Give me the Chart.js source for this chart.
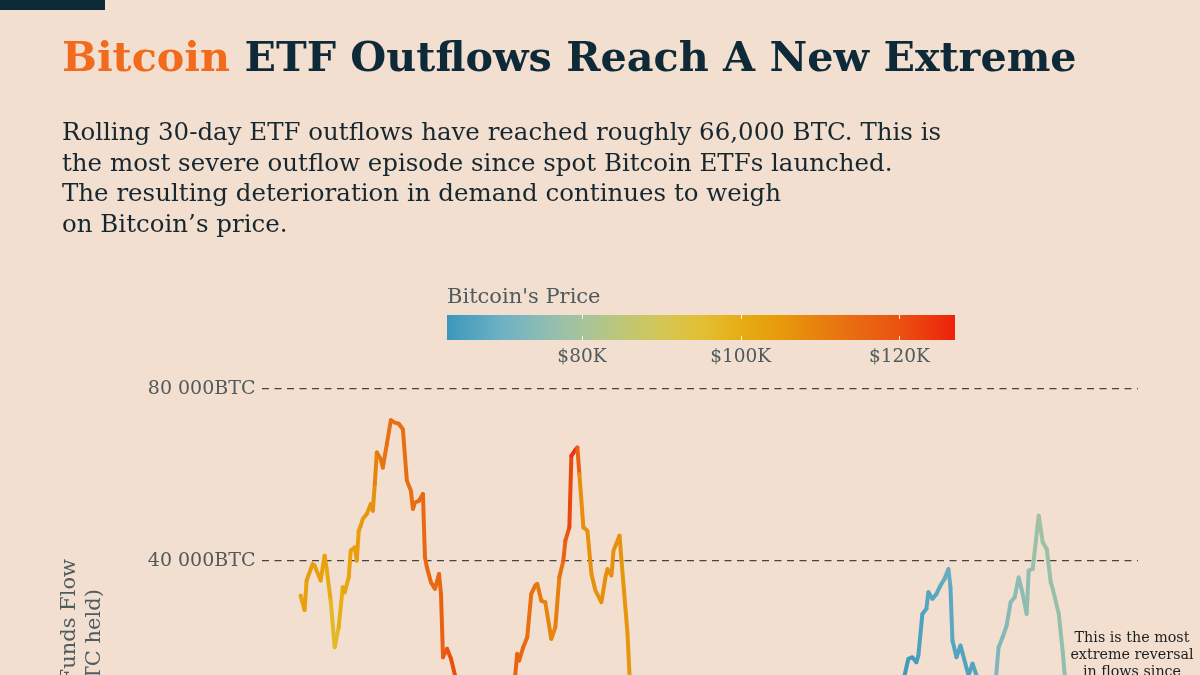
<!DOCTYPE html>
<html>
<head>
<meta charset="utf-8">
<script src="https://cdn.jsdelivr.net/npm/chart.js@4.4.1/dist/chart.umd.min.js"></script>
<style>
  body { margin: 0; background: #f2dfcf; font-family: "DejaVu Serif", serif; }
  #page { position: relative; width: 1200px; height: 675px; overflow: hidden; background: #f2dfcf; }
  .topbar { position: absolute; left: 0; top: 0; width: 105px; height: 10px; background: #0e2a38; }
  .title { position: absolute; left: 62px; top: 36px; font-weight: bold; font-size: 41.3px; line-height: 41.3px;
           color: #0e2a38; white-space: nowrap; }
  .title span { color: #f26b1d; }
  .subtitle { position: absolute; left: 62px; top: 117px; font-size: 24.5px; line-height: 30.5px; color: #172730; white-space: nowrap; }
  .cb-label { position: absolute; left: 447px; top: 286px; font-size: 21px; line-height: 21px; color: #4e5a5e; }
  #colorbar { position: absolute; left: 447px; top: 315px; width: 508px; height: 25px; }
  .cb-tick { position: absolute; width: 1px; height: 4px; background: rgba(255,255,255,0.85); }
  .cb-num { position: absolute; top: 347px; width: 90px; margin-left: -45px; text-align: center; font-size: 18.5px; line-height: 18.5px; color: #4e5a5e; }
  .note { position: absolute; left: 1052px; top: 629px; width: 160px; text-align: center; font-size: 14.3px; line-height: 17px; color: #1e1e1e; }
  #chart { position: absolute; left: 0; top: 0; }
</style>
</head>
<body>
<div id="page">
  <canvas id="chart" width="1200" height="960" style="width:1200px;height:960px"></canvas>
  <div class="topbar"></div>
  <div class="title"><span>Bitcoin</span> ETF Outflows Reach A New Extreme</div>
  <div class="subtitle">Rolling 30-day ETF outflows have reached roughly 66,000 BTC. This is<br>the most severe outflow episode since spot Bitcoin ETFs launched.<br>The resulting deterioration in demand continues to weigh<br>on Bitcoin’s price.</div>
  <div class="cb-label">Bitcoin's Price</div>
  <div id="colorbar"></div>
  <div class="note">This is the most<br>extreme reversal<br>in flows since<br>launch</div>
</div>
<script>
// days since start of the plotted window
const days = [19, 21, 22, 25, 26, 29, 31, 32, 34, 36, 38, 40, 41, 43, 44, 46, 47, 48, 49, 50,
  52, 54, 55, 56, 57, 59, 60, 62, 64, 66, 68, 70, 72, 74, 75, 76, 78, 80, 81, 82,
  84, 86, 88, 89, 90, 92, 94, 96, 100, 104, 108, 113, 118, 123,
  126, 127, 128, 130, 132, 134, 136, 137, 139, 141, 144, 146, 148, 150, 151, 153, 154, 156, 157, 158,
  160, 162, 164, 166, 169, 171, 172, 174, 175, 178, 179, 182, 183,
  190, 200, 215, 230, 245, 260, 275, 290, 305, 315,
  320, 322, 324, 326, 327, 329, 331, 332, 334, 336, 338, 340, 342, 343, 344, 346, 348, 350, 352, 354, 356,
  359, 362, 365,
  367, 369, 371, 373, 375, 377, 379, 381, 382, 384, 387, 389, 391, 393, 394, 397, 399, 400,
  405, 410, 415, 420];

// rolling 30-day net flow, BTC
const flows = [31860, 28530, 35350, 39230, 38840, 35350, 41160, 38070, 30700, 19840, 24490, 33790, 32630, 36120, 42330, 43090, 40000, 46980, 48140, 49700,
  50860, 53190, 51630, 57840, 65190, 63650, 61700, 67140, 72720, 72160, 71900, 70630, 58600, 56280, 52020, 53560, 53950, 55510, 40770, 38440,
  34950, 33420, 36910, 32260, 17510, 19470, 17140, 13260, 4000, -6000, -12000, -5000, 3000, 9000,
  13260, 18300, 16740, 19840, 22160, 32260, 34190, 34580, 30700, 30300, 21790, 24490, 36120, 40000, 44650, 47750, 64420, 65810, 66350, 60160,
  47750, 46980, 36910, 33020, 30300, 36120, 38070, 36510, 42330, 45810, 40000, 22950, 13260,
  0, -15000, -28000, -12000, -22000, -35000, -30000, -15000, -5000, 5000,
  13000, 17140, 17510, 16350, 17910, 27600, 28770, 32630, 31090, 32260, 34190, 35750, 38070, 33790, 21400, 17510, 20230, 16740, 13260, 15980, 13260,
  7000, 4000, 9000,
  19840, 22160, 24880, 30300, 31460, 36120, 32260, 27600, 37670, 38070, 50470, 44260, 42720, 34950, 33420, 27600, 18670, 13260,
  -5000, -25000, -38000, -35000];

// Bitcoin price, $K
const prices = [102, 103, 104, 104, 104, 103, 104, 102, 99, 96, 98, 101, 101, 102, 103, 103, 104, 104, 105, 105,
  105, 106, 106, 108, 111, 112, 112, 113, 114, 114, 114, 114, 114, 114, 114, 114, 114, 115, 115, 115,
  115, 115, 115, 116, 117, 119, 120, 121, 118, 116, 115, 115, 116, 116,
  116, 116, 116, 115, 114, 113, 113, 112, 111, 110, 108, 109, 111, 115, 117, 119, 124, 125, 125, 108,
  107, 107, 107, 107, 107, 107, 107, 107, 107, 107, 106, 106, 105,
  100, 96, 92, 88, 86, 84, 78, 72, 68, 66,
  64, 64, 64, 64, 65, 66, 66, 67, 67, 67, 68, 68, 69, 68, 67, 66, 66, 66, 66, 66, 67,
  68, 70, 72,
  73, 73, 74, 74, 75, 75, 75, 75, 76, 76, 79, 78, 78, 77, 77, 77, 76, 76,
  75, 74, 72, 70];

// colour scale for price ($K)
const priceStops = [63, 70, 75, 80, 85, 90, 95, 100, 105, 110, 115, 120, 127];
const stopColors = ['#3b98bb', '#6fb1c4', '#8dbcb4', '#a6c49c', '#bdc778', '#d4c656', '#e2c034', '#e6ad14',
  '#e79a0c', '#e8800e', '#e96812', '#ea5210', '#ef210b'];
const priceTicks = [80, 100, 120];

const yTicks = [80000, 40000, 0, -40000];

function hexRgb(h) {
  return [parseInt(h.slice(1, 3), 16), parseInt(h.slice(3, 5), 16), parseInt(h.slice(5, 7), 16)];
}

function priceColor(p) {
  if (p <= priceStops[0]) return stopColors[0];
  for (let i = 1; i < priceStops.length; i++) {
    if (p <= priceStops[i]) {
      const t = (p - priceStops[i - 1]) / (priceStops[i] - priceStops[i - 1]);
      const a = hexRgb(stopColors[i - 1]), b = hexRgb(stopColors[i]);
      const c = a.map((v, k) => Math.round(v + (b[k] - v) * t));
      return 'rgb(' + c.join(',') + ')';
    }
  }
  return stopColors[stopColors.length - 1];
}

// colour bar legend
const bar = document.getElementById('colorbar');
const pMin = priceStops[0], pMax = priceStops[priceStops.length - 1];
bar.style.background = 'linear-gradient(to right, ' +
  priceStops.map((p, i) => stopColors[i] + ' ' + ((p - pMin) / (pMax - pMin) * 100).toFixed(2) + '%').join(', ') + ')';
const page = document.getElementById('page');
priceTicks.forEach(p => {
  const frac = (p - pMin) / (pMax - pMin);
  const x = 447 + frac * 508;
  ['top', 'bottom'].forEach(side => {
    const t = document.createElement('div');
    t.className = 'cb-tick';
    t.style.left = (frac * 508) + 'px';
    t.style[side] = '0';
    bar.appendChild(t);
  });
  const lab = document.createElement('div');
  lab.className = 'cb-num';
  lab.style.left = x + 'px';
  lab.textContent = '$' + p + 'K';
  page.appendChild(lab);
});

function fmtBTC(v) {
  const s = Math.abs(v).toLocaleString('en-US').replace(/,/g, ' ');
  return (v < 0 ? '-' : '') + s + 'BTC';
}

const points = days.map((d, i) => ({ x: d, y: flows[i] }));

new Chart(document.getElementById('chart').getContext('2d'), {
  type: 'line',
  data: {
    datasets: [{
      data: points,
      borderColor: '#e8800e',
      borderWidth: 4,
      pointRadius: 0,
      tension: 0,
      borderCapStyle: 'round',
      borderJoinStyle: 'round',
      segment: {
        borderColor: ctx => priceColor((prices[ctx.p0DataIndex] + prices[ctx.p1DataIndex]) / 2)
      }
    }]
  },
  options: {
    responsive: false,
    animation: false,
    layout: { padding: { top: 389, right: 62, bottom: 56, left: 57 } },
    plugins: { legend: { display: false }, tooltip: { enabled: false } },
    scales: {
      x: {
        type: 'linear',
        display: false,
        min: 0,
        max: 436.5
      },
      y: {
        min: -40000,
        max: 80000,
        afterBuildTicks: axis => { axis.ticks = yTicks.map(v => ({ value: v })); },
        ticks: {
          padding: 7,
          color: '#50595c',
          font: { family: 'DejaVu Serif', size: 19 },
          callback: v => fmtBTC(v)
        },
        grid: { color: '#444444', lineWidth: 1.3, drawTicks: false },
        border: { display: false, dash: [7, 5.5] },
        title: {
          display: true,
          text: ['ETF Funds Flow', '(BTC held)'],
          color: '#4f5d63',
          font: { family: 'DejaVu Serif', size: 21 },
          padding: { top: 0, bottom: 27 }
        }
      }
    }
  }
});
</script>
</body>
</html>
